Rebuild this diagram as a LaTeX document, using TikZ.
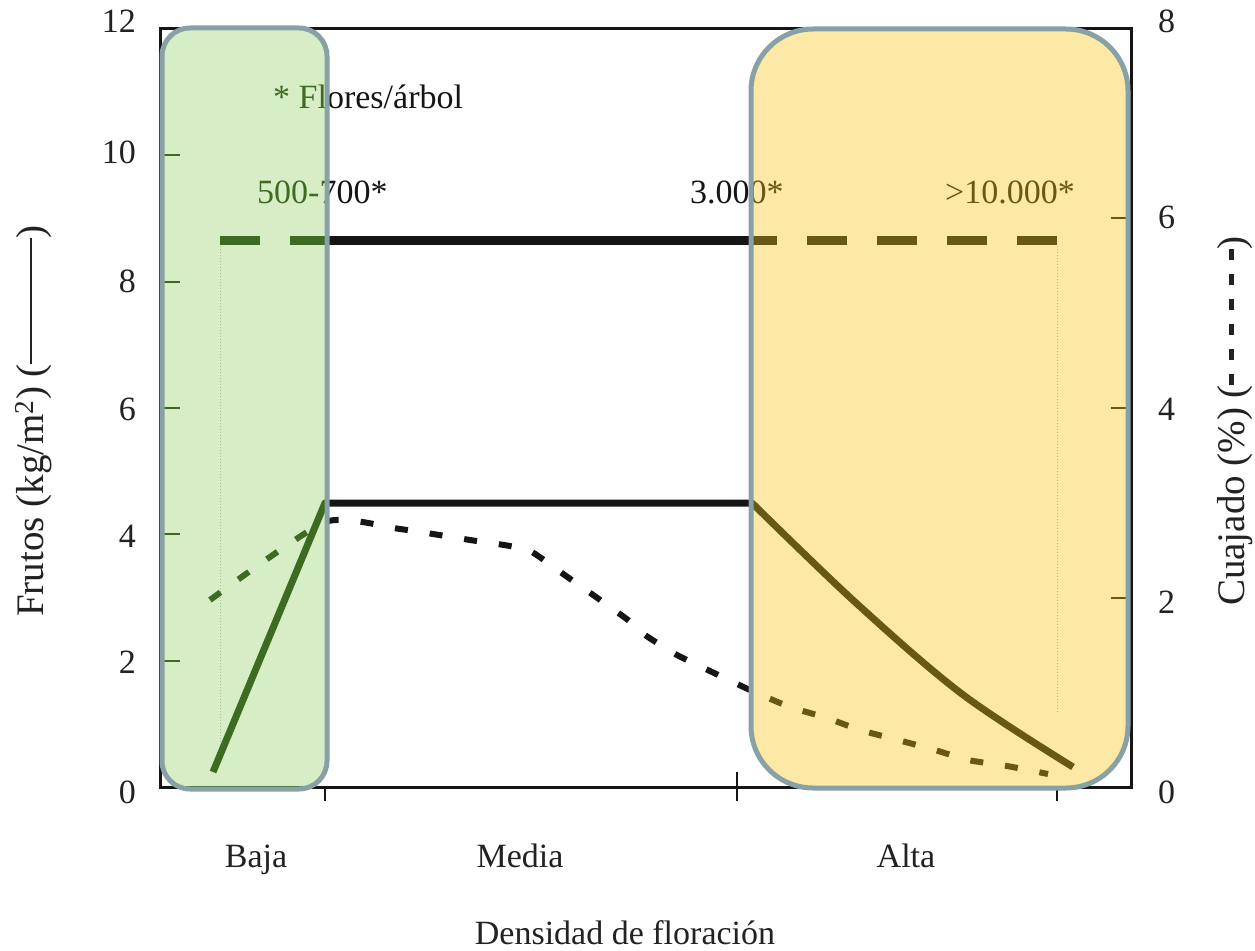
\documentclass[tikz,border=0pt]{standalone}
\usepackage{fontspec}
\setmainfont{Liberation Serif}
\definecolor{inkc}{HTML}{151515}
\definecolor{textc}{HTML}{222222}
\definecolor{greenfill}{HTML}{D7EDC5}
\definecolor{yellowfill}{HTML}{FDE8A5}
\definecolor{boxborder}{HTML}{88A1A6}
\definecolor{greenink}{HTML}{3E6B22}
\definecolor{yellowink}{HTML}{675812}
\newcommand\ticklabelfont{\fontsize{34}{40}\selectfont}
\newcommand\axislabelfont{\fontsize{39}{47}\selectfont}
\newcommand\cuajadodash{\rule[0.26em]{11pt}{5pt}}
\newcommand\chartbody[2]{%
  \draw[#1, line width=3pt] (160,29) rectangle (1131,787);
  \foreach \yy in {155,282,408,534,661} \draw[#1, line width=2pt] (160,\yy) -- (180,\yy);
  \foreach \yy in {218,408,598} \draw[#1, line width=1.5pt] (1111,\yy) -- (1131,\yy);
  \draw[#1, line width=1.5pt] (325,787) -- (325,801);
  \draw[#1, line width=1.5pt] (737,772) -- (737,801);
  \draw[#1, line width=1.5pt] (1057,787) -- (1057,801);
  \draw[#1!45, line width=1pt, dotted] (220,246) -- (220,762);
  \draw[#1!45, line width=1pt, dotted] (1057,246) -- (1057,712);
  \draw[#1, line width=9pt, dash pattern=on 40pt off 30pt] (220,240) -- (325,240);
  \draw[#1, line width=9pt] (325,240) -- (752,240);
  \draw[#1, line width=9pt, dash pattern=on 40pt off 30pt] (1057,240) -- (752,240);
  \draw[#1, line width=7pt, line join=round] (213,772) -- (325,503) -- (752,503)
     -- plot[smooth, tension=0.55] coordinates {(752,503) (855,602) (962,694) (1073,767)};
  \draw[#1, line width=6pt, dash pattern=on 13pt off 22pt] plot[smooth, tension=0.35] coordinates
     {(210,600) (325,522) (400,529) (470,540) (510,546) (532,552) (566,576) (596,597) (628,620)
      (645,635) (677,655) (712,672) (750,690) (790,707) (827,718) (860,730) (898,740) (935,750)
      (968,760) (1007,766) (1048,774)};
  \node[#1, anchor=base west, font=\ticklabelfont, inner sep=0pt] (flores#2) at (273,108) {* Flores/árbol};
  \node[#1, anchor=base west, font=\ticklabelfont, inner sep=0pt] (lowdens#2) at (257,203) {500-700*};
  \node[#1, anchor=base west, font=\ticklabelfont, inner sep=0pt] (middens#2) at (690,203) {3.000*};
  \node[#1, anchor=base west, font=\ticklabelfont, inner sep=0pt] (highdens#2) at (945,203) {>10.000*};
}
\tikzset{
  ticklab/.style={textc, font=\ticklabelfont, inner sep=0pt},
  zonebox/.style={boxborder, line width=5pt}
}
\begin{document}
\begin{tikzpicture}[x=1pt, y=-1pt]
\useasboundingbox (0,0) rectangle (1255,950);
\fill[white] (0,0) rectangle (1255,950);
\chartbody{inkc}{k}
% green zone
\begin{scope}
  \clip[rounded corners=28pt] (162,28) rectangle (327,789);
  \fill[greenfill] (162,28) rectangle (327,789);
  \chartbody{greenink}{g}
\end{scope}
\draw[zonebox, rounded corners=28pt] (162,28) rectangle (327,789);
% yellow zone
\begin{scope}
  \clip[rounded corners=62pt] (751,29) rectangle (1128,788);
  \fill[yellowfill] (751,29) rectangle (1128,788);
  \chartbody{yellowink}{y}
\end{scope}
\draw[zonebox, rounded corners=62pt] (751,29) rectangle (1128,788);
% left tick labels
\node[ticklab, anchor=base east] (l12) at (136,33) {12};
\node[ticklab, anchor=base east] (l10) at (136,163) {10};
\node[ticklab, anchor=base east] (l8) at (136,292) {8};
\node[ticklab, anchor=base east] (l6) at (136,420) {6};
\node[ticklab, anchor=base east] (l4) at (136,547) {4};
\node[ticklab, anchor=base east] (l2) at (136,673) {2};
\node[ticklab, anchor=base east] (l0) at (136,803) {0};
% right tick labels
\node[ticklab, anchor=base west] (r8) at (1158,33) {8};
\node[ticklab, anchor=base west] (r6) at (1158,228) {6};
\node[ticklab, anchor=base west] (r4) at (1158,420) {4};
\node[ticklab, anchor=base west] (r2) at (1158,613) {2};
\node[ticklab, anchor=base west] (r0) at (1158,803) {0};
% category labels
\node[ticklab, anchor=base] (baja) at (256,867) {Baja};
\node[ticklab, anchor=base] (media) at (520,867) {Media};
\node[ticklab, anchor=base] (alta) at (906,867) {Alta};
\node[ticklab, anchor=base] (xlab) at (625,944) {Densidad de floración};
% axis titles
\node[textc, font=\axislabelfont, inner sep=0pt, rotate=90, anchor=base] (ylabl) at (43,421)
  {Frutos (kg/m\textsuperscript{2}) (\rule[0.27em]{126pt}{2.2pt})};
\node[textc, font=\axislabelfont, inner sep=0pt, rotate=90, anchor=base] (ylabr) at (1244,421)
  {Cuajado (\%) (\cuajadodash\hspace{14pt}\cuajadodash\hspace{14pt}\cuajadodash\hspace{14pt}\cuajadodash\hspace{14pt}\cuajadodash\hspace{14pt}\cuajadodash)};
\end{tikzpicture}
\end{document}
